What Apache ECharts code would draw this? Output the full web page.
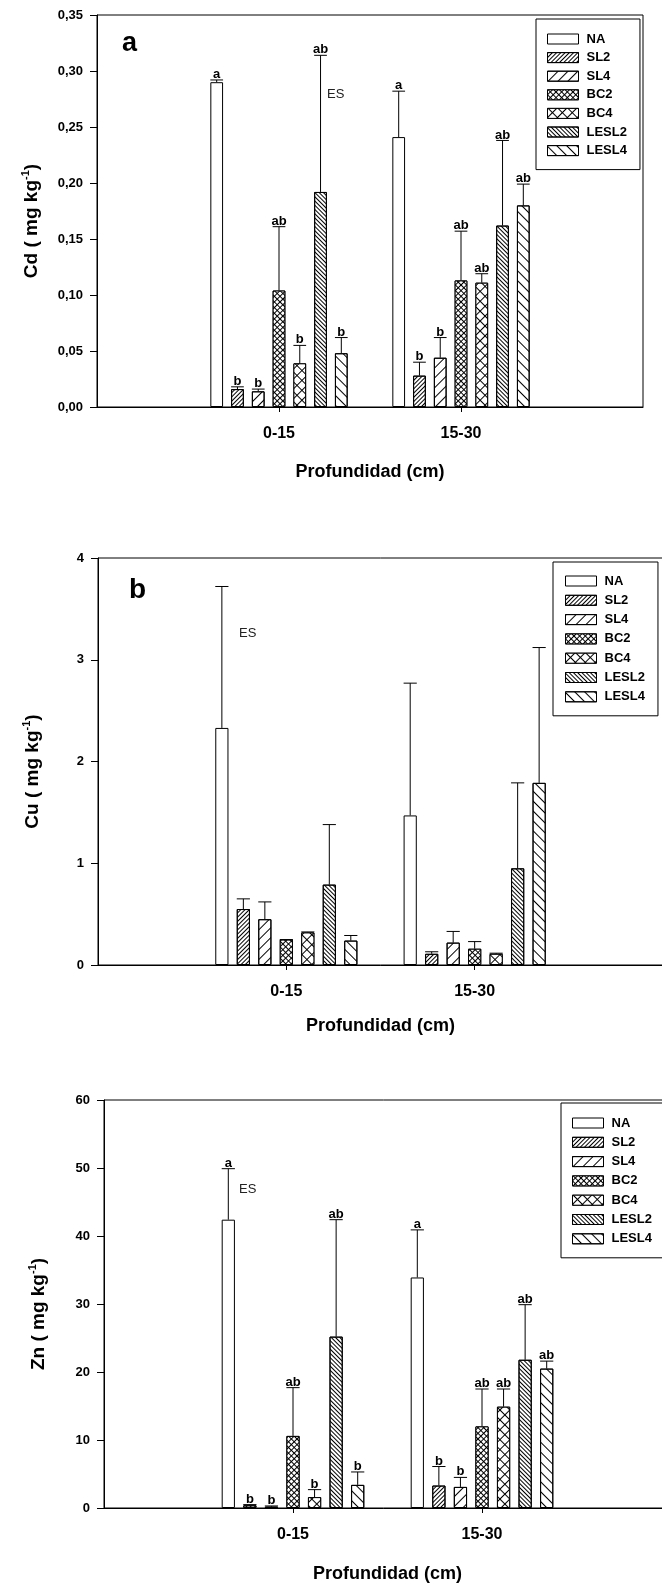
<!DOCTYPE html>
<html>
<head>
<meta charset="utf-8">
<script src="https://cdn.jsdelivr.net/npm/echarts@6/dist/echarts.min.js"></script>
<style>
  html, body { margin: 0; padding: 0; background: #fff; }
  #chart { width: 662px; height: 1585px; }
</style>
</head>
<body>
<div id="chart"></div>
<script>
  // ==== data ====
  const treatments = ['NA', 'SL2', 'SL4', 'BC2', 'BC4', 'LESL2', 'LESL4']
  const depths = ['0-15', '15-30']

  // [0-15, 15-30] per treatment
  const cdMean = [[0.290, 0.241], [0.016, 0.028], [0.014, 0.044], [0.104, 0.113], [0.039, 0.111], [0.192, 0.162], [0.048, 0.180]]
  const cdSE = [[0.002, 0.041], [0.002, 0.012], [0.002, 0.018], [0.057, 0.044], [0.016, 0.008], [0.122, 0.076], [0.014, 0.019]]
  const cdLetters = [['a', 'a'], ['b', 'b'], ['b', 'b'], ['ab', 'ab'], ['b', 'ab'], ['ab', 'ab'], ['b', 'ab']]

  const cuMean = [[2.33, 1.47], [0.55, 0.11], [0.45, 0.22], [0.25, 0.16], [0.32, 0.11], [0.79, 0.95], [0.24, 1.79]]
  const cuSE = [[1.39, 1.30], [0.10, 0.02], [0.17, 0.11], [0.0, 0.07], [0.005, 0.006], [0.59, 0.84], [0.05, 1.33]]

  const znMean = [[42.4, 33.9], [0.4, 3.3], [0.2, 3.1], [10.6, 12.0], [1.6, 14.9], [25.2, 21.8], [3.4, 20.5]]
  const znSE = [[7.5, 7.0], [0.1, 2.8], [0.1, 1.4], [7.1, 5.5], [1.1, 2.6], [17.2, 8.1], [1.9, 1.1]]
  const znLetters = [['a', 'a'], ['b', 'b'], ['b', 'b'], ['ab', 'ab'], ['b', 'ab'], ['ab', 'ab'], ['b', 'ab']]

  const cdTicks = [0, 0.35, 0.05]
  const cuTicks = [0, 4, 1]
  const znTicks = [0, 60, 10]

  // ==== style ====
  const FONT = '"Liberation Sans", Arial, sans-serif'
  const BAR_FRAC = 0.07
  const GAP_FRAC = 0.63

  const stripe = (rot, gap) => ({
    symbol: 'rect', symbolSize: 1, color: '#000',
    dashArrayX: [1, 0], dashArrayY: [1, gap], rotation: rot
  })
  const cross = (size) => ({
    symbol: 'rect', symbolSize: 1, color: '#fff',
    dashArrayX: [size, 1], dashArrayY: [size, 1], rotation: Math.PI / 4
  })

  const fills = [
    { color: '#fff', decal: null },
    { color: '#fff', decal: stripe(-Math.PI / 4, 2) },
    { color: '#fff', decal: stripe(-Math.PI / 4, 6) },
    { color: '#000', decal: cross(3) },
    { color: '#000', decal: cross(6) },
    { color: '#fff', decal: stripe(Math.PI / 4, 1.6) },
    { color: '#fff', decal: stripe(Math.PI / 4, 6) }
  ]

  const panels = [
    {
      mean: cdMean, se: cdSE, letters: cdLetters, ticks: cdTicks, metal: 'Cd',
      fmt: (v) => v.toFixed(2).replace('.', ','),
      grid: { left: 97, top: 15, right: 19, height: 392 },
      legend: { left: 536, top: 19, padding: [13, 13, 12, 11], itemGap: 4.6 },
      nameGap: 56
    },
    {
      mean: cuMean, se: cuSE, letters: null, ticks: cuTicks, metal: 'Cu',
      fmt: (v) => String(v),
      grid: { left: 98, top: 558, right: -1, height: 407 },
      legend: { left: 553, top: 562, padding: [12, 13, 12, 12], itemGap: 5.3 },
      nameGap: 52
    },
    {
      mean: znMean, se: znSE, letters: znLetters, ticks: znTicks, metal: 'Zn',
      fmt: (v) => String(v),
      grid: { left: 104, top: 1100, right: -9, height: 408 },
      legend: { left: 561, top: 1103, padding: [13, 13, 12, 11], itemGap: 5.3 },
      nameGap: 57
    }
  ]

  const xCats = ['', ...depths, '']

  const errorRenderer = (labels) => (params, api) => {
    const cat = api.value(0)
    const mean = api.value(1)
    const top = api.value(2)
    const t = api.value(3)
    const bandW = api.size([1, 0])[0]
    const barW = bandW * BAR_FRAC
    const step = barW * (1 + GAP_FRAC)
    const base = api.coord([cat, mean])
    const x = base[0] + (t - 3) * step
    const yTop = api.coord([cat, top])[1]
    const lineStyle = { stroke: '#000', lineWidth: 1 }
    const children = [
      { type: 'line', shape: { x1: x, y1: base[1], x2: x, y2: yTop }, style: lineStyle },
      { type: 'line', shape: { x1: x - barW / 2, y1: yTop, x2: x + barW / 2, y2: yTop }, style: lineStyle }
    ]
    if (labels) {
      children.push({
        type: 'text', x: x, y: yTop + 1,
        style: {
          text: labels[params.dataIndex], font: 'bold 13px ' + FONT, fill: '#000',
          align: 'center', verticalAlign: 'bottom', textAlign: 'center', textVerticalAlign: 'bottom'
        }
      })
    }
    return { type: 'group', children }
  }

  const grids = []
  const xAxes = []
  const yAxes = []
  const legends = []
  const series = []

  panels.forEach((p, pi) => {
    grids.push(Object.assign({ show: true, borderColor: '#000', borderWidth: 1, outerBoundsMode: 'none', containLabel: false }, p.grid))

    xAxes.push({
      gridIndex: pi,
      type: 'category',
      data: xCats,
      boundaryGap: false,
      axisLine: { lineStyle: { color: '#000', width: 1 } },
      axisTick: { interval: (i) => i === 1 || i === 2, length: 5, lineStyle: { color: '#000' } },
      axisLabel: { interval: 0, margin: 19, color: '#000', fontWeight: 'bold', fontSize: 16, fontFamily: FONT },
      name: 'Profundidad (cm)',
      nameLocation: 'middle',
      nameGap: p.nameGap,
      nameTextStyle: { color: '#000', fontWeight: 'bold', fontSize: 18, fontFamily: FONT },
      splitLine: { show: false }
    })

    yAxes.push({
      gridIndex: pi,
      type: 'value',
      min: p.ticks[0],
      max: p.ticks[1],
      interval: p.ticks[2],
      axisLine: { show: true, lineStyle: { color: '#000', width: 1 } },
      axisTick: { show: true, length: 7, lineStyle: { color: '#000' } },
      axisLabel: { margin: 14, color: '#000', fontWeight: 'bold', fontSize: 13, fontFamily: FONT, formatter: p.fmt },
      splitLine: { show: false },
      name: '{t|' + p.metal + ' ( mg kg}{s|-1}{t|)}',
      nameLocation: 'middle',
      nameGap: 54,
      nameTextStyle: {
        padding: [0, 0, 0, -20],
        rich: {
          t: { fontSize: 19, fontWeight: 'bold', fontFamily: FONT, color: '#000', lineHeight: 23 },
          s: { fontSize: 11, fontWeight: 'bold', fontFamily: FONT, color: '#000', verticalAlign: 'top' }
        }
      }
    })

    legends.push(Object.assign({
      orient: 'vertical',
      data: treatments,
      selectedMode: false,
      icon: 'rect',
      itemWidth: 31,
      itemHeight: 10,
      borderColor: '#000',
      borderWidth: 1,
      backgroundColor: '#fff',
      itemStyle: { borderColor: '#000', borderWidth: 1 },
      textStyle: { color: '#000', fontWeight: 'bold', fontSize: 13, fontFamily: FONT, lineHeight: 14, padding: [0, 0, 0, 3] }
    }, p.legend))

    treatments.forEach((name, ti) => {
      series.push({
        name,
        type: 'bar',
        xAxisIndex: pi,
        yAxisIndex: pi,
        barWidth: (BAR_FRAC * 100) + '%',
        barGap: (GAP_FRAC * 100) + '%',
        data: [null, p.mean[ti][0], p.mean[ti][1], null],
        itemStyle: Object.assign({ borderColor: '#000', borderWidth: 1 }, fills[ti]),
        emphasis: { disabled: true },
        animation: false
      })
    })

    const errData = []
    const labels = []
    treatments.forEach((name, ti) => {
      depths.forEach((d, di) => {
        errData.push([di + 1, p.mean[ti][di], p.mean[ti][di] + p.se[ti][di], ti])
        if (p.letters) labels.push(p.letters[ti][di])
      })
    })
    series.push({
      type: 'custom',
      xAxisIndex: pi,
      yAxisIndex: pi,
      data: errData,
      renderItem: errorRenderer(p.letters ? labels : null),
      z: 5,
      silent: true,
      animation: false
    })
  })

  const textEl = (text, x, y, font, fill) => ({
    type: 'text', x, y,
    style: { text, font, fill, align: 'left', verticalAlign: 'middle', textAlign: 'left', textVerticalAlign: 'middle' }
  })

  const chart = echarts.init(document.getElementById('chart'), null, { renderer: 'canvas' })
  chart.setOption({
    animation: false,
    backgroundColor: '#fff',
    grid: grids,
    xAxis: xAxes,
    yAxis: yAxes,
    legend: legends,
    series,
    graphic: [
      textEl('a', 122, 44, 'bold 27px ' + FONT, '#000'),
      textEl('ES', 327, 94, '13px ' + FONT, '#222'),
      textEl('b', 129, 590, 'bold 28px ' + FONT, '#000'),
      textEl('ES', 239, 633, '13px ' + FONT, '#222'),
      textEl('ES', 239, 1189, '13px ' + FONT, '#222')
    ]
  })
</script>
</body>
</html>
